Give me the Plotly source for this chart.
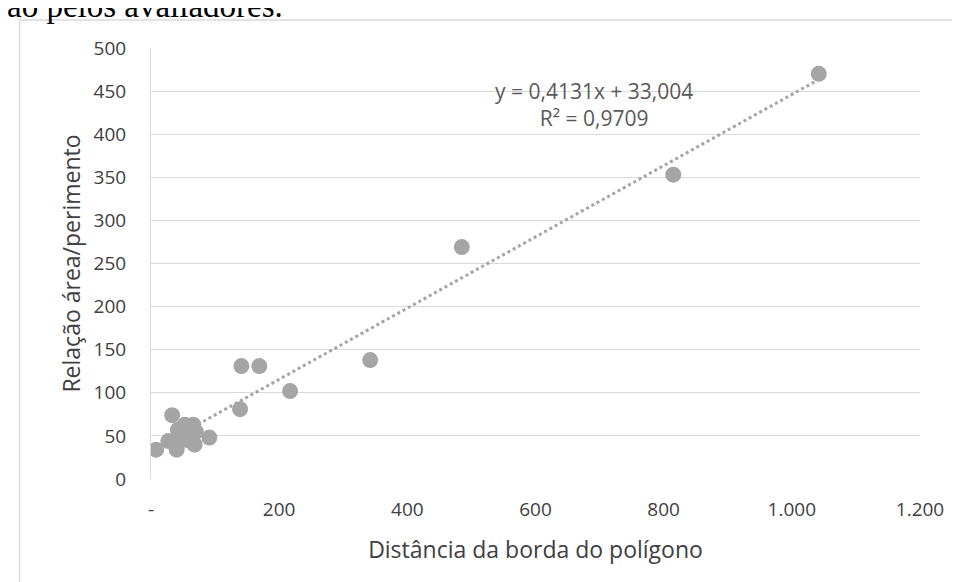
import plotly.graph_objects as go

# Data
dist = [8, 33, 27, 40, 42, 53, 66, 50, 61, 68, 91, 45, 57, 70, 139, 141, 169, 217, 342, 485, 815, 1042]
ratio = [34, 74, 44, 34, 57, 63, 63, 51, 51, 40, 48, 46, 45, 55, 81, 131, 131, 102, 138, 269, 353, 470]

slope = 0.4131
intercept = 33.004
eq_text = "y = 0,4131x + 33,004<br>R² = 0,9709"

x_ticks = [0, 200, 400, 600, 800, 1000, 1200]
x_ticktext = ["-", "200", "400", "600", "800", "1.000", "1.200"]
y_ticks = [0, 50, 100, 150, 200, 250, 300, 350, 400, 450, 500]

FONT = "Open Sans"
GRAY = "#A5A5A5"

xmin, xmax = min(dist), max(dist)
trend_x = [xmin, xmax]
trend_y = [slope * v + intercept for v in trend_x]

fig = go.Figure()
fig.add_trace(go.Scatter(x=trend_x, y=trend_y, mode="lines",
                         line=dict(color=GRAY, width=3, dash="dot"),
                         hoverinfo="skip", showlegend=False))
fig.add_trace(go.Scatter(x=dist, y=ratio, mode="markers",
                         marker=dict(size=16, color=GRAY, line=dict(width=0)),
                         showlegend=False))

fig.add_annotation(x=0.576, y=0.868, xref="paper", yref="paper", text=eq_text,
                   showarrow=False, xanchor="center", yanchor="middle",
                   font=dict(family=FONT, size=21, color="#595959"), align="center")

# partial text of the surrounding document (cut at top)
fig.add_annotation(x=-0.19, y=1.0975, xref="paper", yref="paper", text="ão pelos avaliadores.",
                   showarrow=False, xanchor="left", yanchor="middle",
                   font=dict(family="Liberation Serif", size=33, color="#000000"))

# chart border
fig.add_shape(type="rect", xref="paper", yref="paper",
              x0=-0.171, x1=1.0585, y0=-0.27, y1=1.065,
              line=dict(color="#D9D9D9", width=1.5), fillcolor="rgba(0,0,0,0)", layer="below")

fig.update_layout(
    width=960, height=582,
    margin=dict(l=143, r=48, t=40, b=111),
    paper_bgcolor="white", plot_bgcolor="white",
    font=dict(family=FONT, color="#404040"),
    xaxis=dict(range=[0, 1200], tickvals=x_ticks, ticktext=x_ticktext,
               showgrid=False, zeroline=False, showline=False, ticks="",
               tickfont=dict(size=19, color="#404040"), ticklabelstandoff=17,
               title=dict(text="Distância da borda do polígono",
                          font=dict(size=23, color="#404040"), standoff=20)),
    yaxis=dict(range=[0, 500], tickvals=y_ticks,
               showgrid=True, gridcolor="#D9D9D9", gridwidth=1,
               zeroline=False, showline=True, linecolor="#D9D9D9", linewidth=1, ticks="",
               tickfont=dict(size=19, color="#404040"), ticklabelstandoff=20,
               title=dict(text="Relação área/perimento",
                          font=dict(size=23, color="#404040"), standoff=6)),
)

fig.write_html("out.html")
